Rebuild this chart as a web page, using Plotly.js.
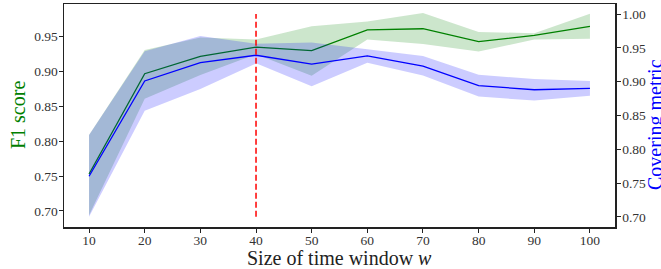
<!DOCTYPE html>
<html>
<head>
<meta charset="utf-8">
<script src="https://cdn.plot.ly/plotly-3.0.1.min.js"></script>
<style>html,body{margin:0;padding:0;background:#fff;}#chart{width:661px;height:269px;}</style>
</head>
<body>
<div id="chart"></div>
<script>
// Window sizes
const windowSizes = [10, 20, 30, 40, 50, 60, 70, 80, 90, 100];
// F1 score (left axis)
const f1Mean  = [0.753, 0.897, 0.922, 0.935, 0.930, 0.960, 0.9615, 0.943, 0.952, 0.965];
const f1Upper = [0.809, 0.931, 0.949, 0.946, 0.965, 0.972, 0.984, 0.957, 0.955, 0.983];
const f1Lower = [0.694, 0.861, 0.895, 0.925, 0.894, 0.946, 0.9395, 0.929, 0.946, 0.947];
// Covering metric (right axis)
const covMean  = [0.760, 0.901, 0.928, 0.939, 0.926, 0.938, 0.923, 0.894, 0.888, 0.890];
const covUpper = [0.821, 0.945, 0.9675, 0.956, 0.958, 0.948, 0.938, 0.910, 0.904, 0.901];
const covLower = [0.700, 0.857, 0.889, 0.927, 0.893, 0.928, 0.909, 0.878, 0.872, 0.879];
// Ticks
const xTicks = [10, 20, 30, 40, 50, 60, 70, 80, 90, 100];
const yLeftTicks = [0.70, 0.75, 0.80, 0.85, 0.90, 0.95];
const yRightTicks = [0.70, 0.75, 0.80, 0.85, 0.90, 0.95, 1.00];
const bestWindow = 40;

function band(x, up, lo) {
  return { x: x.concat(x.slice().reverse()), y: up.concat(lo.slice().reverse()) };
}
const gBand = band(windowSizes, f1Upper, f1Lower);
const bBand = band(windowSizes, covUpper, covLower);

const traces = [
  { x: gBand.x, y: gBand.y, type: 'scatter', mode: 'none', fill: 'toself',
    fillcolor: 'rgba(0,128,0,0.2)', xaxis: 'x', yaxis: 'y', hoverinfo: 'skip' },
  { x: windowSizes, y: f1Mean, type: 'scatter', mode: 'lines',
    line: { color: 'green', width: 1.3 }, xaxis: 'x', yaxis: 'y' },
  { x: bBand.x, y: bBand.y, type: 'scatter', mode: 'none', fill: 'toself',
    fillcolor: 'rgba(0,0,255,0.2)', xaxis: 'x', yaxis: 'y2', hoverinfo: 'skip' },
  { x: windowSizes, y: covMean, type: 'scatter', mode: 'lines',
    line: { color: 'blue', width: 1.3 }, xaxis: 'x', yaxis: 'y2' }
];

const axisCommon = {
  showgrid: false, zeroline: false, showline: true, linecolor: '#222', linewidth: 1.5,
  ticks: 'outside', ticklen: 4, tickwidth: 1, tickcolor: '#222',
  tickfont: { family: 'Liberation Serif', size: 13.5, color: '#333' }
};

const layout = {
  width: 661, height: 269,
  margin: { l: 64, r: 46, t: 4, b: 42, pad: 0 },
  paper_bgcolor: '#fff', plot_bgcolor: '#fff',
  showlegend: false,
  font: { family: 'Liberation Serif' },
  xaxis: Object.assign({}, axisCommon, {
    range: [5.5, 104.5], tickvals: xTicks, mirror: true, ticklabelstandoff: -4
  }),
  yaxis: Object.assign({}, axisCommon, {
    range: [0.677, 0.997], tickvals: yLeftTicks, tickformat: '.2f', ticklabelstandoff: -2
  }),
  yaxis2: Object.assign({}, axisCommon, {
    range: [0.685, 1.0148], tickvals: yRightTicks, tickformat: '.2f',
    overlaying: 'y', side: 'right', ticklabelstandoff: -1
  }),
  shapes: [
    { type: 'line', xref: 'x', yref: 'y2', x0: bestWindow, x1: bestWindow, y0: 0.70, y1: 1.00,
      line: { color: 'red', width: 1.5, dash: '6px,3px' } }
  ],
  annotations: [
    { text: 'F1 score', xref: 'paper', yref: 'paper', x: -0.0835, y: 0.502,
      xanchor: 'center', yanchor: 'middle', textangle: -90, showarrow: false,
      font: { family: 'Liberation Serif', size: 20, color: 'green' } },
    { text: 'Covering metric', xref: 'paper', yref: 'paper', x: 1.0744, y: 0.462,
      xanchor: 'center', yanchor: 'middle', textangle: -90, showarrow: false,
      font: { family: 'Liberation Serif', size: 20, color: 'blue' } },
    { text: 'Size of time window <i>w</i>', xref: 'paper', yref: 'paper', x: 0.5009, y: -0.14,
      xanchor: 'center', yanchor: 'middle', showarrow: false,
      font: { family: 'Liberation Serif', size: 20, color: '#222' } }
  ]
};

Plotly.newPlot('chart', traces, layout, { staticPlot: true, displayModeBar: false });
</script>
</body>
</html>
